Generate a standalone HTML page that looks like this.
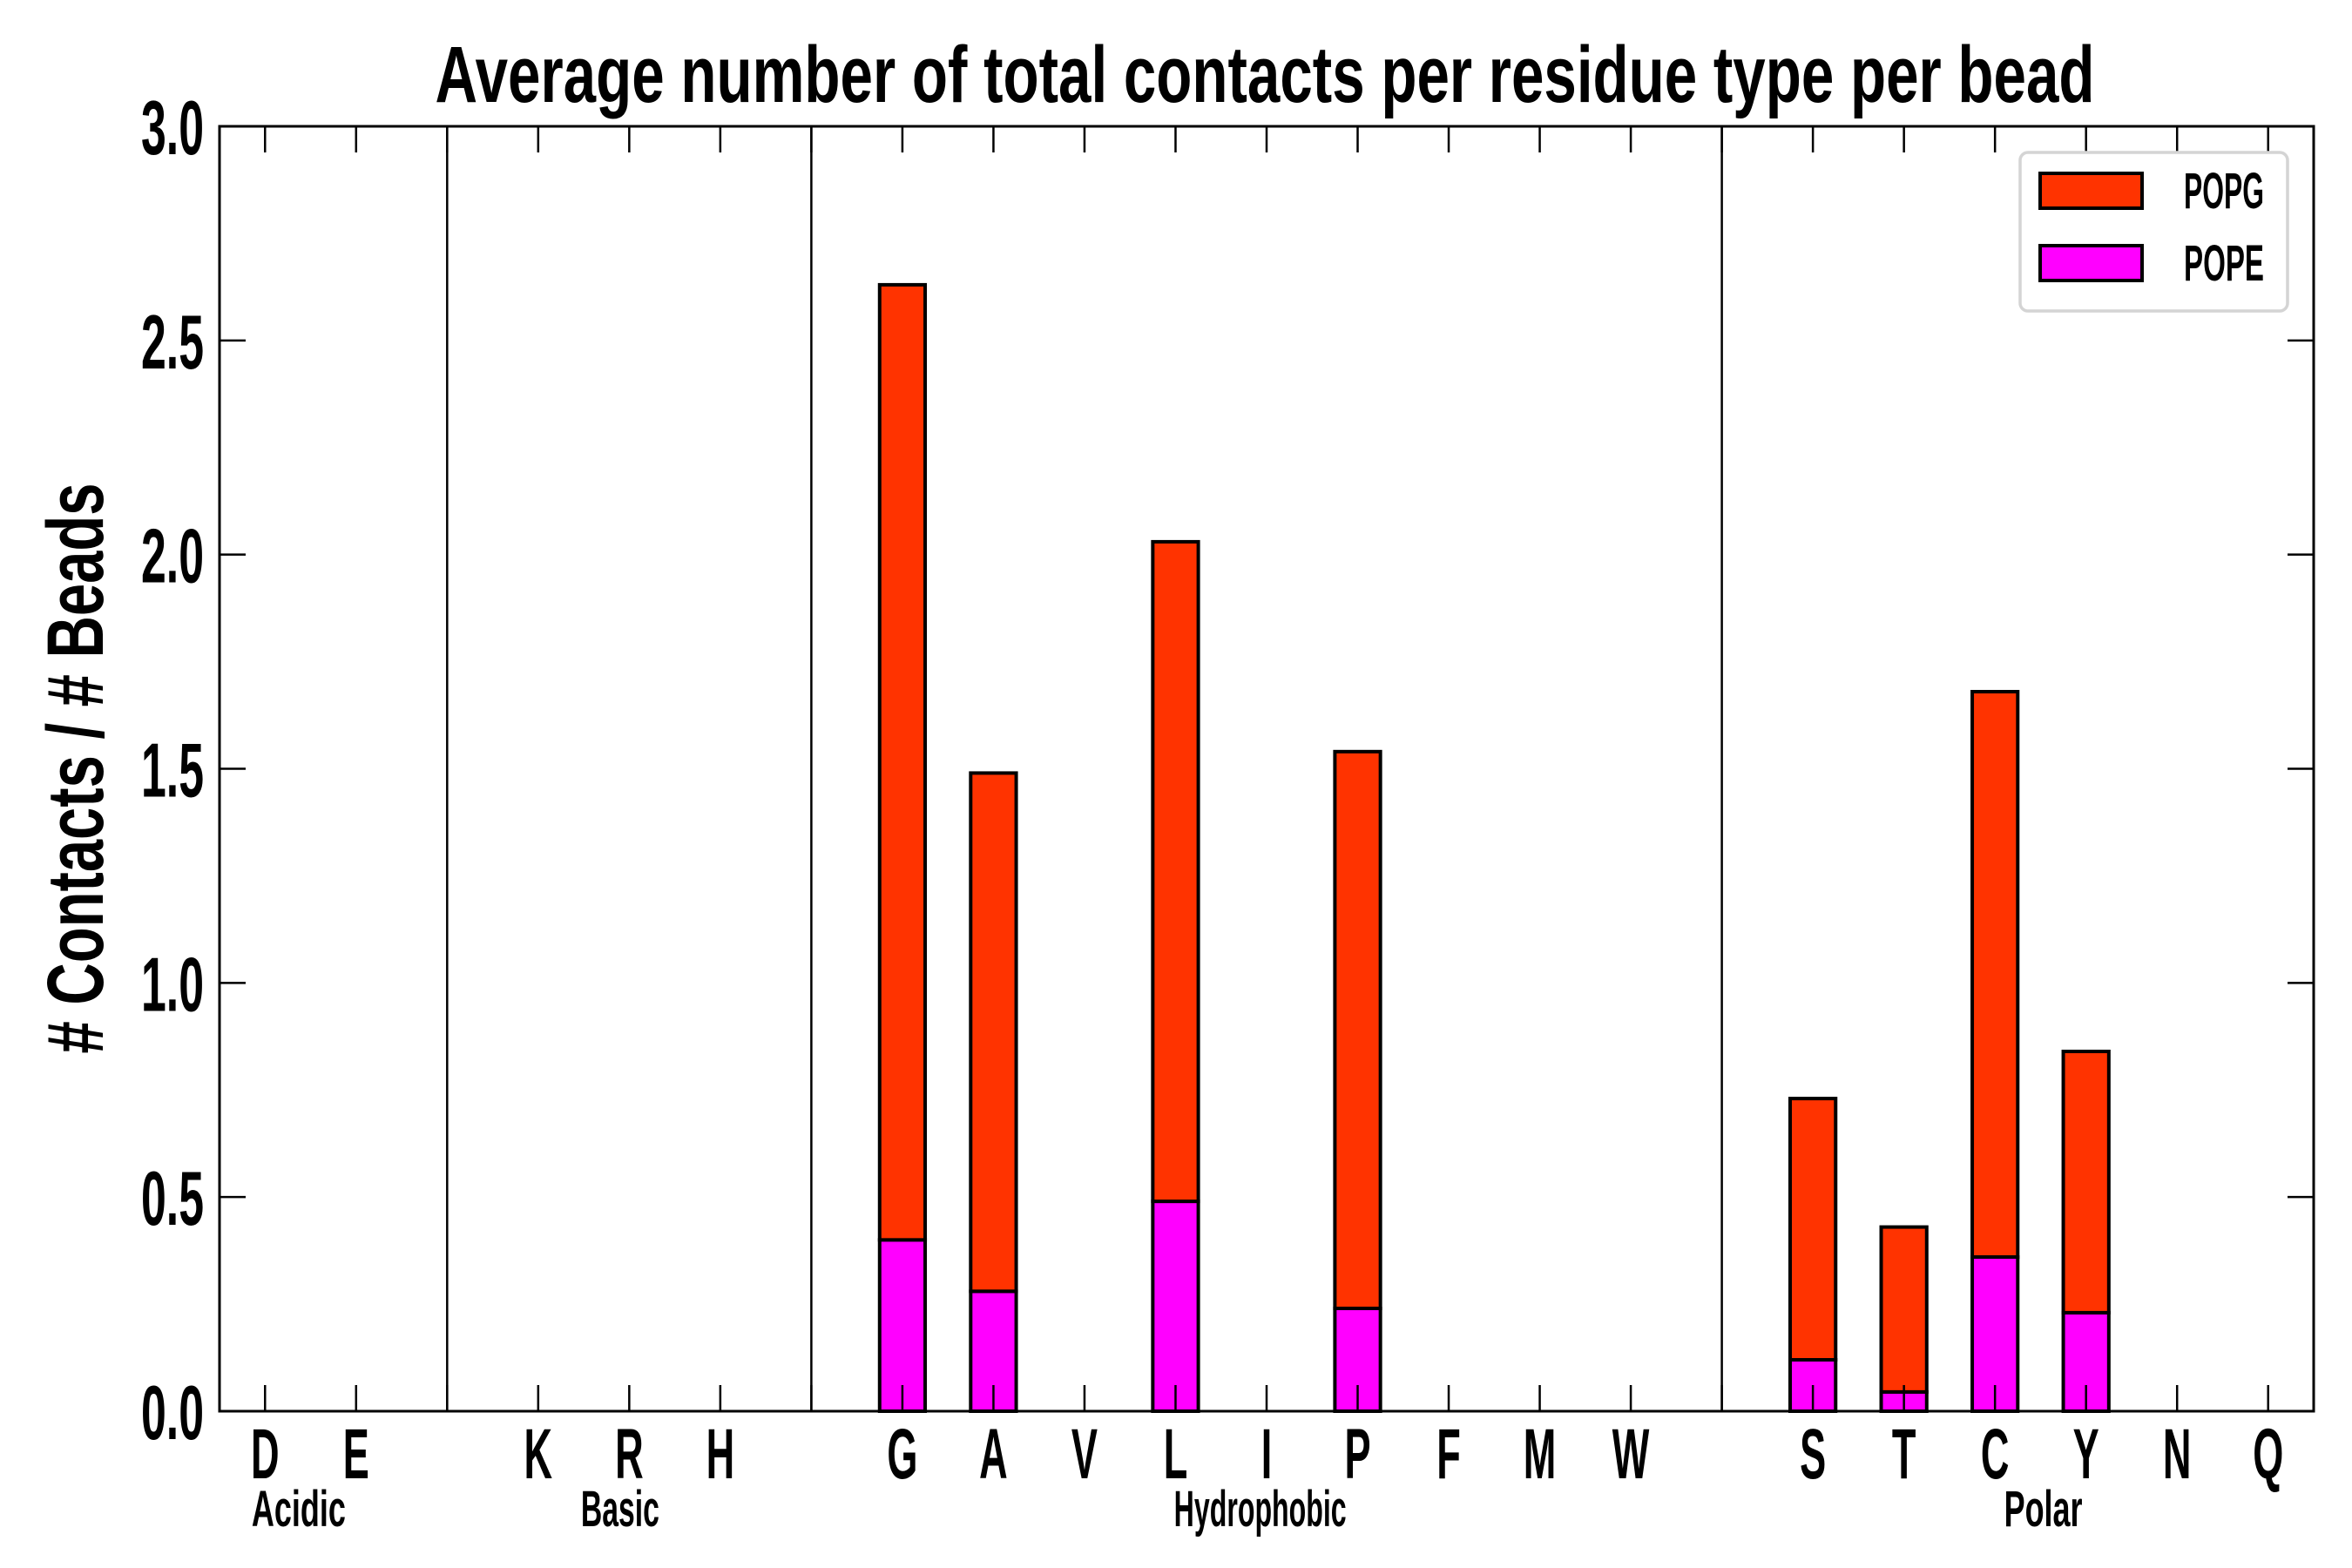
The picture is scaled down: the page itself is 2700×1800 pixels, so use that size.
<!DOCTYPE html>
<html><head><meta charset="utf-8"><style>
html,body{margin:0;padding:0;background:#fff;}
svg{display:block;}
text{font-family:"Liberation Sans",sans-serif;font-weight:bold;fill:#000;}
</style></head><body>
<svg id="chart" width="2700" height="1800" viewBox="0 0 2700 1800" xmlns="http://www.w3.org/2000/svg">
<text x="1452" y="117" font-size="92" text-anchor="middle" textLength="1905" lengthAdjust="spacingAndGlyphs">Average number of total contacts per residue type per bead</text>
<text transform="translate(118,882) rotate(-90)" font-size="92" text-anchor="middle" textLength="655" lengthAdjust="spacingAndGlyphs"># Contacts / # Beads</text>
<g id="plot"></g>
</svg>
<script>
const categories = ["D","E","","K","R","H","","G","A","V","L","I","P","F","M","W","","S","T","C","Y","N","Q"];
const popeValues = [0,0,0,0,0,0,0,0.40,0.28,0,0.49,0,0.24,0,0,0,0,0.12,0.045,0.36,0.23,0,0];
const popgValues = [0,0,0,0,0,0,0,2.23,1.21,0,1.54,0,1.30,0,0,0,0,0.61,0.385,1.32,0.61,0,0];
const yTicks = [0,0.5,1.0,1.5,2.0,2.5,3.0];
const yTickLabels = ["0.0","0.5","1.0","1.5","2.0","2.5","3.0"];
const separators = [2,6,16];
const groupNames = ["Acidic","Basic","Hydrophobic","Polar"];
const groupCenters = [0.37,3.9,10.93,19.53];

const L=252,R=2656,T=145,B=1620;
const xMin=-0.5,xMax=22.5,yMax=3.0;
const NS="http://www.w3.org/2000/svg";
const g=document.getElementById('plot');
function xs(v){return L+(v-xMin)/(xMax-xMin)*(R-L);}
function ys(v){return B-v/yMax*(B-T);}
function el(tag,attrs,parent){const e=document.createElementNS(NS,tag);for(const k in attrs)e.setAttribute(k,attrs[k]);(parent||g).appendChild(e);return e;}

separators.forEach(s=>{
  const ln=el('line',{x1:xs(s),x2:xs(s),y1:T,y2:B,stroke:'#000','stroke-width':2.5});
  
  
});
const bw=0.5;
categories.forEach((c,i)=>{
  const x0=xs(i-bw/2), w=xs(i+bw/2)-xs(i-bw/2);
  const p=popeValues[i], q=popgValues[i];
  const r1=el('rect',{x:x0,y:ys(p),width:w,height:ys(0)-ys(p),fill:'#ff00ff',stroke:'#000','stroke-width':4});
  
  
  const r2=el('rect',{x:x0,y:ys(p+q),width:w,height:ys(p)-ys(p+q),fill:'#ff3300',stroke:'#000','stroke-width':4});
  
  
  el('line',{x1:xs(i),x2:xs(i),y1:B,y2:B-30,stroke:'#000','stroke-width':2.5});
  el('line',{x1:xs(i),x2:xs(i),y1:T,y2:T+30,stroke:'#000','stroke-width':2.5});
  if(c){
    const t=el('text',{transform:'translate('+xs(i)+',1697) scale(0.55,1)','font-size':82,'text-anchor':'middle'});
    t.textContent=c;
    
    
  }
});
yTicks.forEach((v,i)=>{
  el('line',{x1:L,x2:L+30,y1:ys(v),y2:ys(v),stroke:'#000','stroke-width':2.5});
  el('line',{x1:R,x2:R-30,y1:ys(v),y2:ys(v),stroke:'#000','stroke-width':2.5});
  const t=el('text',{x:234,y:ys(v)+32,'font-size':88,'text-anchor':'end',textLength:72,lengthAdjust:'spacingAndGlyphs'});
  t.textContent=yTickLabels[i];
  
  
});
groupNames.forEach((n,i)=>{
  const t=el('text',{x:xs(groupCenters[i]),y:1752,'font-size':58,'text-anchor':'middle',textLength:n.length*18,lengthAdjust:'spacingAndGlyphs'});
  t.textContent=n;
  
  
});
const fr=el('rect',{x:L,y:T,width:R-L,height:B-T,fill:'none',stroke:'#000','stroke-width':3});


const lg=el('g',{});


el('rect',{x:2319,y:175,width:307,height:182,rx:9,fill:'#fff',stroke:'#d4d4d4','stroke-width':3.5},lg);
const items=[["POPG","#ff3300",197],["POPE","#ff00ff",280]];
items.forEach(it=>{
  const e=el('g',{},lg);
  
  
  el('rect',{x:2342,y:it[2]+2,width:117,height:40,fill:it[1],stroke:'#000','stroke-width':4},e);
  const t=el('text',{x:2507,y:it[2]+42,'font-size':58,textLength:92,lengthAdjust:'spacingAndGlyphs'},e);
  t.textContent=it[0];
});
</script>
</body></html>
